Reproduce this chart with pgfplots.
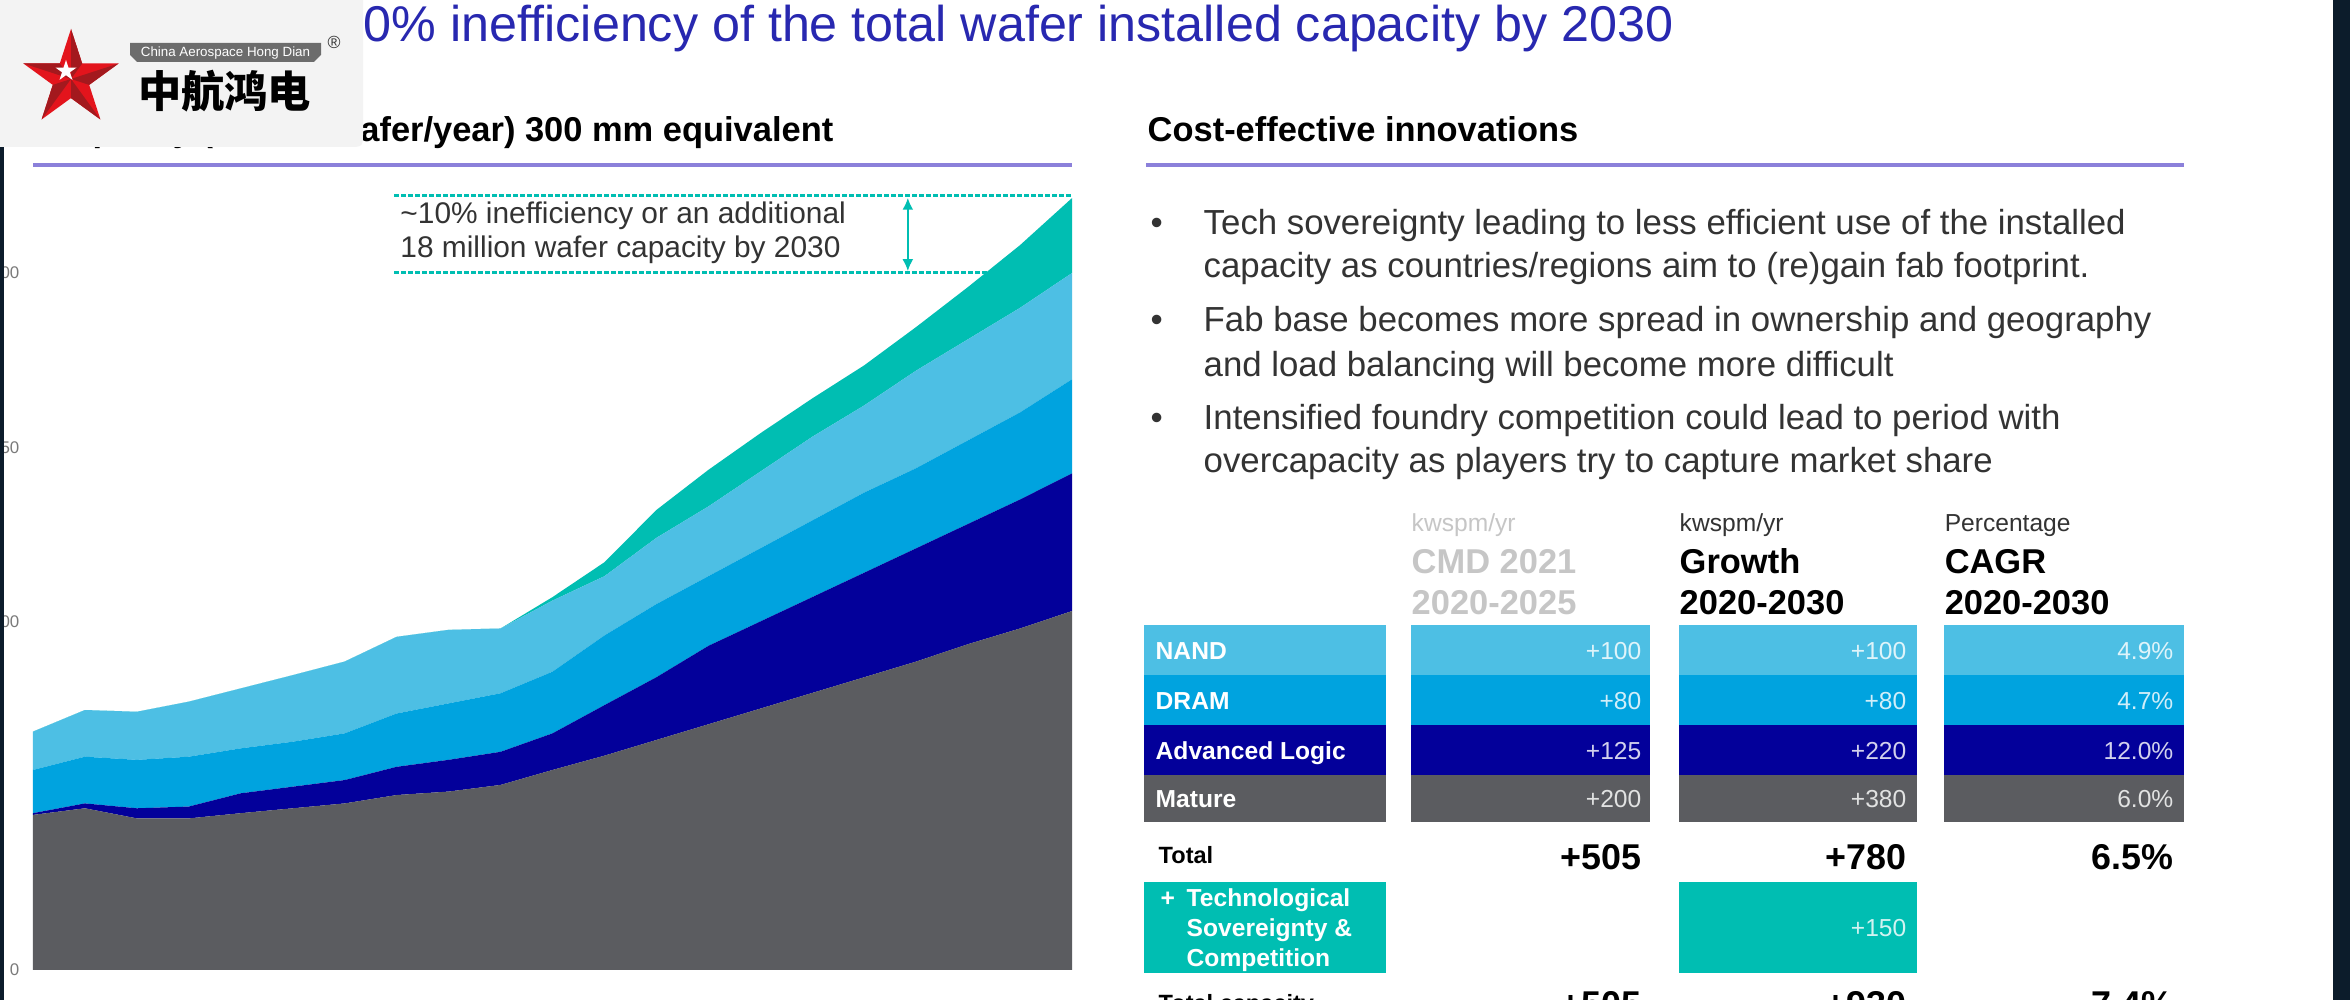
\documentclass[border=0pt]{standalone}
\usepackage{pgfplots}
\usepackage{pgfplotstable}
\pgfplotsset{compat=1.18}
\usepackage{fontspec}
\setmainfont{Liberation Sans}
\newfontfamily\cjk{Noto Sans CJK SC}
\usetikzlibrary{arrows.meta}

\definecolor{mature}{HTML}{5B5C60}
\definecolor{logic}{HTML}{03009A}
\definecolor{dram}{HTML}{00A3DF}
\definecolor{nand}{HTML}{4DBFE4}
\definecolor{tealc}{HTML}{00BEB2}
\definecolor{titleblue}{HTML}{2828B0}
\definecolor{rulec}{HTML}{8B80DA}
\definecolor{bodytext}{HTML}{333333}
\definecolor{lightgrey}{HTML}{C6C6C6}
\definecolor{tickgrey}{HTML}{7A7A7A}
\definecolor{logobg}{HTML}{F3F3F3}
\definecolor{starred}{HTML}{E3141C}
\definecolor{stardark}{HTML}{A3191E}
\definecolor{edgec}{HTML}{0C1C2B}

\newcommand{\fsz}[1]{\fontsize{#1pt}{#1pt}\selectfont}

% capacity by segment, stacked (mature at the bottom)
\pgfplotstableread{
year mature logic dram nand ineff
2010 44.5 0.5 12.4 11.0 0
2011 46.4 1.4 13.4 13.4 0
2012 43.5 2.9 13.9 13.8 0
2013 43.5 3.4 14.3 15.8 0
2014 45.0 5.7 12.9 17.2 0
2015 46.4 6.2 12.9 19.1 0
2016 47.8 6.7 13.4 20.6 0
2017 50.2 8.1 15.3 22.0 0
2018 51.2 9.1 16.2 21.1 0
2019 53.1 9.5 16.8 18.6 0
2020 57.4 10.5 17.7 20.4 1
2021 61.5 14.5 20.0 17.0 4
2022 66.0 18.0 21.0 19.0 8
2023 70.5 22.5 20.0 20.0 10.5
2024 75.0 25.0 21.0 22.0 11
2025 79.5 27.5 22.0 24.0 11
2026 84.0 30.0 23.0 25.0 11.5
2027 88.5 32.5 23.0 28.0 12.5
2028 93.5 34.5 24.0 29.0 15
2029 98.0 37.0 25.0 30.0 18
2030 103.0 39.5 27.0 30.5 21.5
}\capdata

\begin{document}
\begin{tikzpicture}
\useasboundingbox (0,0) rectangle (235mm,-100mm);
\clip (0,0) rectangle (235mm,-100mm);
\fill[white] (0,0) rectangle (235mm,-100mm);

\begin{axis}[
    at={(3.3mm,-97mm)}, anchor=south west,
    scale only axis, width=103.9mm, height=69.7mm,
    xmin=2010, xmax=2030, ymin=0, ymax=200,
    clip=false, stack plots=y,
    axis line style={draw=none}, major tick style={draw=none},
    ytick={0,100,150,200},
    xtick={2010,2015,2020,2025,2030},
    /pgf/number format/1000 sep={},
    /pgf/number format/assume math mode=true,
    tick label style={font=\fsz{4.8}, text=tickgrey},
    yticklabel style={anchor=east, inner sep=0pt, xshift=-1.3mm},
    xticklabel style={anchor=north, inner sep=0pt, yshift=-3.0mm},
]
\draw[tealc, line width=0.3mm, dash pattern=on 0.5mm off 0.2mm] (axis cs:2016.95,222.1) -- (axis cs:2030,222.1);
\draw[tealc, line width=0.3mm, dash pattern=on 0.5mm off 0.2mm] (axis cs:2016.95,200) -- (axis cs:2030,200);
\addplot[fill=mature, draw=none] table[x=year, y=mature]{\capdata} \closedcycle;
\addplot[fill=logic, draw=none] table[x=year, y=logic]{\capdata} \closedcycle;
\addplot[fill=dram, draw=none] table[x=year, y=dram]{\capdata} \closedcycle;
\addplot[fill=nand, draw=none] table[x=year, y=nand]{\capdata} \closedcycle;
\addplot[fill=tealc, draw=none] table[x=year, y=ineff]{\capdata} \closedcycle;
\draw[tealc, line width=0.25mm, {Latex[length=1.2mm,width=1.1mm]}-{Latex[length=1.2mm,width=1.1mm]}] (axis cs:2026.84,221.6) -- (axis cs:2026.84,200.5);
\node[anchor=west, align=left, inner sep=0pt, text=bodytext, font=\fontsize{8.5pt}{9.7pt}\selectfont] at (axis cs:2017.06,211.5) {\textasciitilde10\% inefficiency or an additional\\18 million wafer capacity by 2030};
\end{axis}

\begin{scope}[x=0.1mm, y=-0.1mm]
% titles
\node[anchor=base east, inner sep=0pt, text=titleblue, font=\fsz{14.3}] at (1674,42) {\textasciitilde10\% inefficiency of the total wafer installed capacity by 2030};
\node[anchor=base east, inner sep=0pt, font=\bfseries\fsz{9.8}] at (834,142) {Capacity (million wafer/year) 300 mm equivalent};
\node[anchor=base west, inner sep=0pt, font=\bfseries\fsz{9.8}] at (1147,142) {Cost-effective innovations};
\draw[rulec, line width=0.4mm] (33,165) -- (1072,165);
\draw[rulec, line width=0.4mm] (1146,165) -- (2184,165);

% bullets
\foreach \y/\t in {235/{Tech sovereignty leading to less efficient use of the installed},
                   278/{capacity as countries/regions aim to (re)gain fab footprint.},
                   332/{Fab base becomes more spread in ownership and geography},
                   377/{and load balancing will become more difficult},
                   430/{Intensified foundry competition could lead to period with},
                   473/{overcapacity as players try to capture market share}}
  \node[anchor=base west, inner sep=0pt, text=bodytext, font=\fsz{9.9}] at (1203,\y) {\t};
\foreach \y in {235,332,430}
  \node[anchor=base west, inner sep=0pt, text=bodytext, font=\fsz{9.9}] at (1150,\y) {\textbullet};

% table headers
\node[anchor=base west, inner sep=0pt, text=lightgrey, font=\fsz{7}] at (1411,532) {kwspm/yr};
\node[anchor=base west, inner sep=0pt, text=bodytext, font=\fsz{7}] at (1679,532) {kwspm/yr};
\node[anchor=base west, inner sep=0pt, text=bodytext, font=\fsz{7}] at (1944,532) {Percentage};
\node[anchor=base west, inner sep=0pt, text=lightgrey, font=\bfseries\fsz{9.8}] at (1411,574) {CMD 2021};
\node[anchor=base west, inner sep=0pt, text=lightgrey, font=\bfseries\fsz{9.8}] at (1411,615) {2020-2025};
\node[anchor=base west, inner sep=0pt, font=\bfseries\fsz{9.8}] at (1679,574) {Growth};
\node[anchor=base west, inner sep=0pt, font=\bfseries\fsz{9.8}] at (1679,615) {2020-2030};
\node[anchor=base west, inner sep=0pt, font=\bfseries\fsz{9.8}] at (1944,574) {CAGR};
\node[anchor=base west, inner sep=0pt, font=\bfseries\fsz{9.8}] at (1944,615) {2020-2030};

% table body
\foreach \ya/\yb/\c/\lab/\va/\vb/\vc in {625/675/nand/NAND/+100/+100/4.9\%,
    675/725/dram/DRAM/+80/+80/4.7\%,
    725/775/logic/Advanced Logic/+125/+220/12.0\%,
    775/822/mature/Mature/+200/+380/6.0\%}{
  \fill[\c] (1144,\ya) rectangle (1386,\yb);
  \fill[\c] (1411,\ya) rectangle (1650,\yb);
  \fill[\c] (1679,\ya) rectangle (1917,\yb);
  \fill[\c] (1944,\ya) rectangle (2184,\yb);
  \node[anchor=base west, inner sep=0pt, text=white, font=\bfseries\fsz{7}] at (1155,{(\ya+\yb)/2+9}) {\lab};
  \node[anchor=base east, inner sep=0pt, text=white!82!\c, font=\fsz{7}] at (1642,{(\ya+\yb)/2+9}) {\va};
  \node[anchor=base east, inner sep=0pt, text=white!82!\c, font=\fsz{7}] at (1907,{(\ya+\yb)/2+9}) {\vb};
  \node[anchor=base east, inner sep=0pt, text=white!82!\c, font=\fsz{7}] at (2174,{(\ya+\yb)/2+9}) {\vc};
}
\node[anchor=base west, inner sep=0pt, font=\bfseries\fsz{6.7}] at (1158,863) {Total};
\node[anchor=base east, inner sep=0pt, font=\bfseries\fsz{10.2}] at (1642,869) {+505};
\node[anchor=base east, inner sep=0pt, font=\bfseries\fsz{10.2}] at (1907,869) {+780};
\node[anchor=base east, inner sep=0pt, font=\bfseries\fsz{10.2}] at (2174,869) {6.5\%};

\fill[tealc] (1144,882) rectangle (1386,973);
\fill[tealc] (1679,882) rectangle (1917,973);
\node[anchor=base west, inner sep=0pt, text=white, font=\bfseries\fsz{7}] at (1160,906) {+};
\node[anchor=base west, inner sep=0pt, text=white, font=\bfseries\fsz{7}] at (1186,906) {Technological};
\node[anchor=base west, inner sep=0pt, text=white, font=\bfseries\fsz{7}] at (1186,936) {Sovereignty \&};
\node[anchor=base west, inner sep=0pt, text=white, font=\bfseries\fsz{7}] at (1186,966) {Competition};
\node[anchor=base east, inner sep=0pt, text=white!82!tealc, font=\fsz{7}] at (1907,936) {+150};

\node[anchor=base west, inner sep=0pt, font=\bfseries\fsz{6.7}] at (1158,1011) {Total capacity};
\node[anchor=base east, inner sep=0pt, font=\bfseries\fsz{10.2}] at (1642,1016) {+505};
\node[anchor=base east, inner sep=0pt, font=\bfseries\fsz{10.2}] at (1907,1016) {+930};
\node[anchor=base east, inner sep=0pt, font=\bfseries\fsz{10.2}] at (2174,1016) {7.4\%};

% page edges
\fill[edgec] (0,147) rectangle (4,1000);
\fill[edgec] (2333,0) rectangle (2350,1000);

% logo
\fill[logobg] (0,0) -- (363,0) -- (363,132) .. controls (363,147) .. (348,147) -- (0,147) -- cycle;
\fill[starred] (71,29) -- (82.2,63.5) -- (118.6,63.5) -- (89.2,84.9) -- (100.4,119.5) -- (71,98.1) -- (41.6,119.5) -- (52.8,84.9) -- (23.4,63.5) -- (59.8,63.5) -- cycle;
\fill[stardark] (71,79) -- (71,29) -- (82.2,63.5) -- cycle;
\fill[stardark] (71,79) -- (118.6,63.5) -- (89.2,84.9) -- cycle;
\fill[stardark] (71,79) -- (100.4,119.5) -- (71,98.1) -- cycle;
\fill[stardark] (71,79) -- (41.6,119.5) -- (52.8,84.9) -- cycle;
\fill[stardark] (71,79) -- (23.4,63.5) -- (59.8,63.5) -- cycle;
\fill[white] (66,60) -- (68.5,67.6) -- (76.5,67.6) -- (70,72.3) -- (72.5,79.9) -- (66,75.2) -- (59.5,79.9) -- (62,72.3) -- (55.5,67.6) -- (63.5,67.6) -- cycle;
\fill[gray!85!black] (130,43) -- (321,43) -- (321,55) -- (314,62) -- (137,62) -- (130,55) -- cycle;
\node[inner sep=0pt, text=white, font=\fsz{3.8}] at (225.5,53) {China Aerospace Hong Dian};
\node[inner sep=0pt, text=black!80, font=\fsz{5}] at (334,42) {\textregistered};
\node[inner sep=0pt, font=\cjk\bfseries\fsz{12.3}] at (224.5,91) {中航鸿电};
\end{scope}
\end{tikzpicture}
\end{document}
